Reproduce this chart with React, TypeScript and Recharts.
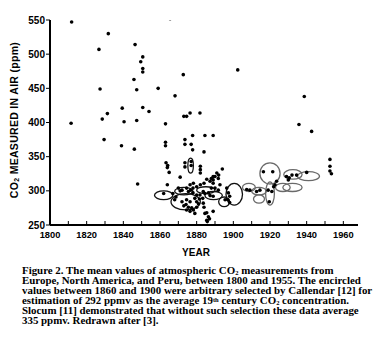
import React from 'react';
import { ScatterChart, Scatter, XAxis, YAxis, ReferenceArea, Label } from 'recharts';

// Year of each measurement
const pointYear = [
  1811.8, 1831.8, 1826.7, 1846.4, 1850.6, 1849.5, 1850.6, 1850.6, 1845.8, 1827.3,
  1847.3, 1859, 1872.7, 1859, 1865.5, 1868.2, 1831.3, 1839.4, 1850.6, 1854,
  1828.5, 1840.4, 1847.3, 1811.5, 1863, 1873, 1874.5, 1876.4, 1881.8, 1902.4,
  1938.7, 1935.8, 1942.7,
  1829.5, 1839, 1846, 1847.8, 1863, 1863, 1873.6, 1873.6, 1877.8, 1884.5,
  1889, 1877, 1877.8, 1884, 1863.3, 1864.2, 1864, 1865, 1864, 1871,
  1873.6, 1873.6, 1877, 1877, 1882, 1882, 1882, 1894, 1892, 1889,
  1889, 1889, 1885.5, 1884, 1882, 1880, 1878, 1874.5, 1872, 1875.5,
  1878, 1880, 1885.5, 1886.4, 1885.5, 1887, 1889,
  1896.4, 1897.3, 1898, 1897, 1895.5, 1898,
  1916.4, 1921.5, 1919, 1921, 1919.6, 1923.6, 1922.7, 1922, 1912.7, 1914.5,
  1907.3, 1909, 1929, 1930.5, 1932, 1930, 1934.5, 1940, 1952.7, 1952.7,
  1952.7, 1953.5,
  1867, 1868.7, 1868, 1876.7, 1874.5, 1876.4, 1874.2, 1875.5, 1877.3, 1874.5,
  1876.4, 1878.2, 1879, 1880, 1881, 1880, 1879, 1881.5, 1881.8, 1883.6,
  1884.5, 1883.3, 1883.6, 1884, 1884.5, 1885.8, 1887.3, 1888, 1891, 1890,
  1891.8, 1892.7, 1888, 1890, 1891.8, 1886.4, 1887.3, 1889, 1876.4, 1878.2,
  1870, 1871, 1862, 1872, 1873,
];

// CO2 value (ppm) of each measurement
const pointPpm = [
  547, 530, 507, 514, 496, 489, 479, 474, 463, 449,
  448, 450, 470, 557, 552, 439, 413, 421, 422, 416,
  405, 401, 403, 399, 398, 409, 409, 414, 414, 477,
  438, 397, 387,
  375, 366, 361, 310, 371, 366, 375, 368, 381, 381,
  381, 368, 360, 357, 341, 337, 334, 327, 309, 320,
  341, 335, 343, 337, 336, 331, 326, 332, 323, 321,
  316, 311, 317, 311, 309, 306, 304, 304, 301, 299,
  297, 294, 268, 262, 257, 259, 270,
  304, 297, 292, 287, 287, 283,
  328, 328, 301, 299, 284, 314, 309, 306, 299, 301,
  302, 301, 321, 319, 323, 316, 323, 327, 346, 336,
  329, 325,
  296, 291, 287, 301, 287, 284, 280, 276, 275, 272,
  270, 272, 267, 276, 281, 284, 289, 288, 294, 299,
  296, 289, 282, 276, 267, 255, 314, 318, 326, 321,
  318, 309, 304, 304, 301, 297, 293, 292, 309, 311,
  304, 300, 296, 284, 278,
];

// Encircled groups [year from, year to, ppm from, ppm to]
const blackRings = [
  [1857, 1867, 287, 300],
  [1866, 1882, 272, 296],
  [1868, 1878, 294, 305],
  [1875.2, 1878.2, 326, 348],
  [1880, 1890, 296, 306],
  [1884.5, 1894, 287, 299],
  [1892, 1898, 277, 291],
  [1896, 1905, 279, 311],
];
const grayRings = [
  [1905, 1912, 299, 311],
  [1910, 1918, 294, 305],
  [1911, 1917, 282, 294],
  [1914.5, 1925.5, 310, 341],
  [1917.6, 1922.4, 279, 313],
  [1923, 1931, 299, 311],
  [1927, 1937.5, 299, 311],
  [1927.5, 1937.5, 317, 331],
  [1935, 1947, 315, 328],
];

const xTicks = [1800, 1810, 1820, 1830, 1840, 1850, 1860, 1870, 1880, 1890, 1900, 1910, 1920, 1930, 1940, 1950, 1960];
const xLabels = [1800, 1820, 1840, 1860, 1880, 1900, 1920, 1940, 1960];
const yTicks = [250, 300, 350, 400, 450, 500, 550];

const data = pointYear.map((year, i) => ({ year, ppm: pointPpm[i] }));

const SANS = 'Arial, "Liberation Sans", Helvetica, sans-serif';

const Dot = (props: any) => {
  const { cx, cy } = props;
  if (cx == null || cy == null) return null;
  return <circle cx={cx} cy={cy} r={1.8} fill="#000" />;
};

const ringShape = (stroke: string) => (props: any) => {
  const { x, y, width, height } = props;
  if (x == null) return null;
  return (
    <ellipse
      cx={x + width / 2}
      cy={y + height / 2}
      rx={Math.abs(width) / 2}
      ry={Math.abs(height) / 2}
      fill="none"
      stroke={stroke}
      strokeWidth={1.3}
    />
  );
};

const XTick = (props: any) => {
  const { x, y, payload } = props;
  const v = payload.value;
  return (
    <g>
      <line x1={x} x2={x} y1={y} y2={y - 4} stroke="#000" strokeWidth={1} />
      {xLabels.includes(v) ? (
        <text x={x} y={y + 12.5} textAnchor="middle" fontFamily={SANS} fontWeight="bold" fontSize={9.3} fill="#000">
          {v}
        </text>
      ) : null}
    </g>
  );
};

const YLabel = (props: any) => {
  const cx = 14;
  const cy = 120;
  return (
    <text
      x={cx}
      y={cy}
      transform={`rotate(-90, ${cx}, ${cy})`}
      textAnchor="middle"
      dominantBaseline="central"
      fontFamily={SANS}
      fontWeight="bold"
      fontSize={10.5}
      letterSpacing={0.3}
      fill="#000"
    >
      CO<tspan dy={2} fontSize={7}>2</tspan>
      <tspan dy={-2}>{'  MEASURED  IN  AIR  (ppm)'}</tspan>
    </text>
  );
};

const XLabel = (props: any) => {
  return (
    <text x={196} y={256} textAnchor="middle" fontFamily={SANS} fontWeight="bold" fontSize={10} fill="#000">
      YEAR
    </text>
  );
};

const captionLine: React.CSSProperties = { whiteSpace: 'nowrap', height: 10.1, lineHeight: '10.1px' };
const subStyle: React.CSSProperties = { fontSize: 6.5, verticalAlign: '-1px', lineHeight: 0 };
const supStyle: React.CSSProperties = { fontSize: 6.5, verticalAlign: '2.5px', lineHeight: 0 };

export default function App() {
  return (
    <div style={{ position: 'absolute', left: 0, top: 0, width: 380, height: 351, background: '#fff' }}>
      <ScatterChart width={380} height={262} margin={{ top: 20, right: 22, bottom: 7, left: 0 }}>
        <XAxis
          type="number"
          dataKey="year"
          domain={[1800, 1968]}
          ticks={xTicks}
          interval={0}
          allowDataOverflow
          axisLine={{ stroke: '#000', strokeWidth: 2 }}
          tickLine={false}
          tickSize={0}
          tickMargin={0}
          height={30}
          tick={<XTick />}
        >
          <Label content={<XLabel />} />
        </XAxis>
        <YAxis
          type="number"
          dataKey="ppm"
          domain={[250, 550]}
          ticks={yTicks}
          interval={0}
          allowDataOverflow
          width={50}
          axisLine={{ stroke: '#000', strokeWidth: 2 }}
          tickLine={{ stroke: '#000', strokeWidth: 1 }}
          tickSize={4}
          tickMargin={1}
          tick={{ fill: '#000', fontSize: 10, fontWeight: 'bold', fontFamily: SANS }}
        >
          <Label content={<YLabel />} />
        </YAxis>
        {blackRings.map((r, i) => (
          <ReferenceArea key={'b' + i} x1={r[0]} x2={r[1]} y1={r[2]} y2={r[3]} shape={ringShape('#111')} ifOverflow="visible" />
        ))}
        {grayRings.map((r, i) => (
          <ReferenceArea key={'g' + i} x1={r[0]} x2={r[1]} y1={r[2]} y2={r[3]} shape={ringShape('#6a6a6a')} ifOverflow="visible" />
        ))}
        <Scatter data={data} dataKey="ppm" shape={<Dot />} isAnimationActive={false} />
      </ScatterChart>
      <div
        style={{
          position: 'absolute',
          left: 22,
          top: 265,
          fontFamily: '"Liberation Serif", "Times New Roman", serif',
          fontWeight: 'bold',
          fontSize: 10.9,
          color: '#000',
        }}
      >
        <div style={captionLine}>
          Figure 2. The mean values of atmospheric CO<sub style={subStyle}>2</sub> measurements from
        </div>
        <div style={captionLine}>Europe, North America, and Peru, between 1800 and 1955. The encircled</div>
        <div style={captionLine}>values between 1860 and 1900 were arbitrary selected by Callendar [12] for</div>
        <div style={captionLine}>
          estimation of 292 ppmv as the average 19<sup style={supStyle}>th</sup> century CO<sub style={subStyle}>2</sub> concentration.
        </div>
        <div style={captionLine}>Slocum [11] demonstrated that without such selection these data average</div>
        <div style={captionLine}>335 ppmv. Redrawn after [3].</div>
      </div>
    </div>
  );
}
